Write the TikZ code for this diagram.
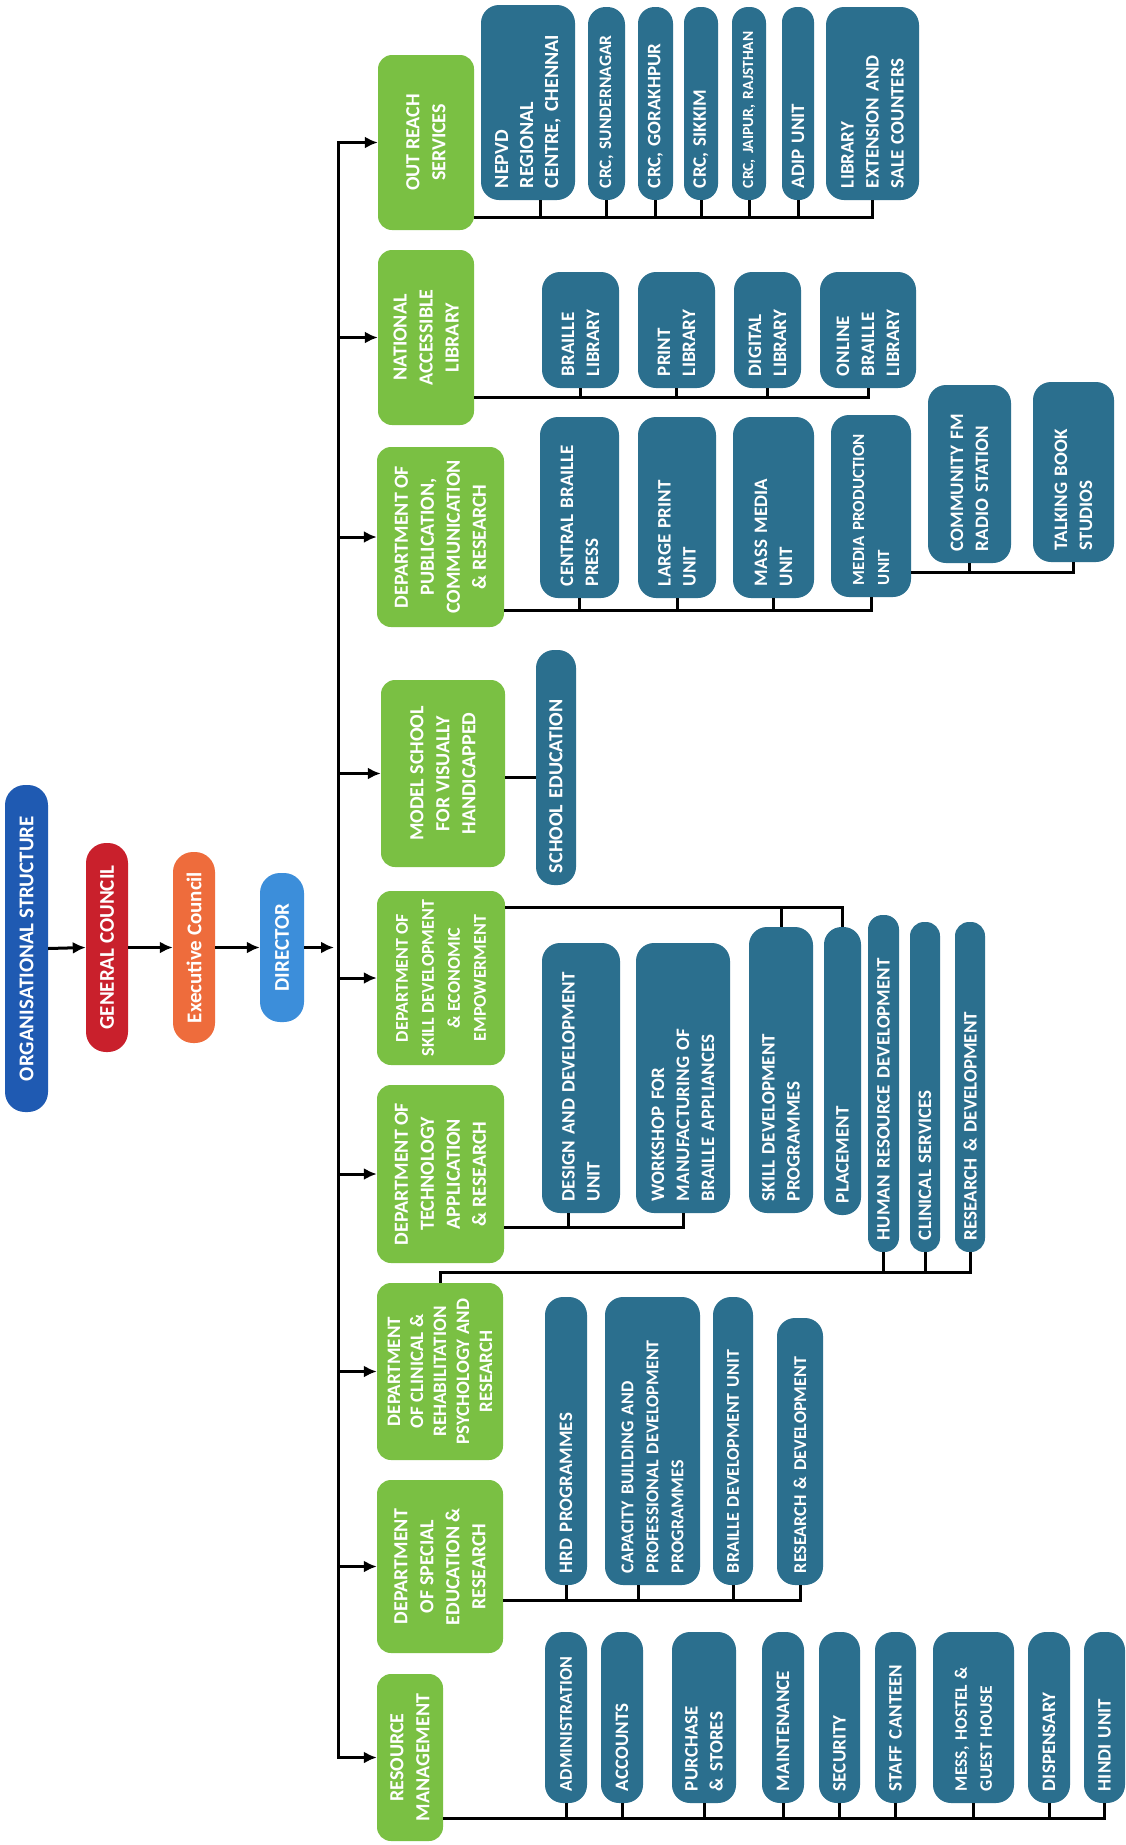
\documentclass[tikz,border=0pt]{standalone}
\usepackage{fontspec}
\setmainfont{Carlito}
\hyphenpenalty=10000
\exhyphenpenalty=10000
\usetikzlibrary{arrows.meta}
\definecolor{ngreen}{RGB}{122,192,67}
\definecolor{nblue}{RGB}{43,111,142}
\definecolor{orgblue}{RGB}{31,90,178}
\definecolor{gcred}{RGB}{201,32,44}
\definecolor{ecorange}{RGB}{238,108,60}
\definecolor{dirblue}{RGB}{60,142,218}
\tikzset{
  bx/.style={rotate=90, fill=nblue, text=white, font=\bfseries\fontsize{19}{25}\selectfont, align=left, inner xsep=12pt, inner ysep=0pt},
  gx/.style={rotate=90, fill=ngreen, text=white, font=\bfseries\fontsize{20}{26}\selectfont, align=center, inner sep=0pt, rounded corners=14pt},
  tx/.style={rotate=90, text=white, font=\bfseries\fontsize{21}{26}\selectfont, align=center, inner sep=0pt, rounded corners=20pt},
  ln/.style={line width=3pt, black},
  arr/.style={line width=3pt, black, -{Latex[length=13pt,width=12pt]}},
  fs/.style={font=\bfseries\fontsize{#1}{25}\selectfont},
}
\newcommand\mkbox[7]{%
  \pgfmathsetmacro\mbx{(#3+#4)/2}\pgfmathsetmacro\mby{(#5+#6)/2}%
  \pgfmathsetmacro\mbl{#6-#5}\pgfmathsetmacro\mbt{#4-#3}%
  \node[#1, minimum width=\mbl pt, minimum height=\mbt pt] (#2) at (\mbx,\mby) {#7};}
\newcommand\mkgreen[7][]{%
  \pgfmathsetmacro\mbx{(#3+#4)/2}\pgfmathsetmacro\mby{(#5+#6)/2}%
  \pgfmathsetmacro\mbl{#6-#5}\pgfmathsetmacro\mbt{#4-#3}%
  \node[gx, #1, minimum width=\mbl pt, minimum height=\mbt pt] (#2) at (\mbx,\mby) {#7};}
\newcommand\mkblue[7][]{%
  \pgfmathsetmacro\mbx{(#3+#4)/2}\pgfmathsetmacro\mby{(#5+#6)/2}%
  \pgfmathsetmacro\mbl{#6-#5}\pgfmathsetmacro\mbt{#4-#3}%
  \pgfmathsetmacro\mbw{#6-#5-24}\pgfmathsetmacro\mbr{min(18,(#4-#3)/2-1)}%
  \node[bx, #1, minimum width=\mbl pt, minimum height=\mbt pt, text width=\mbw pt, rounded corners=\mbr pt] (#2) at (\mbx,\mby) {#7};}
\begin{document}
\begin{tikzpicture}[x=1pt,y=-1pt]
\useasboundingbox[fill=white] (0,0) rectangle (1126,1845);
% top chain
\mkbox{tx,fill=orgblue}{ORG}{5}{48}{785}{1112}{ORGANISATIONAL STRUCTURE}
\mkbox{tx,fill=gcred}{GC}{86}{128}{843}{1052}{GENERAL COUNCIL}
\mkbox{tx,fill=ecorange}{EC}{173}{215}{852}{1043}{Executive Council}
\mkbox{tx,fill=dirblue}{DIR}{260}{304}{873}{1022}{DIRECTOR}
% green departments
\mkgreen{OUT}{378}{474}{55}{230}{OUT REACH\\SERVICES}
\mkgreen{NAL}{378}{474}{250}{425}{NATIONAL\\ACCESSIBLE\\LIBRARY}
\mkgreen{PUB}{377}{504}{447}{627}{DEPARTMENT OF\\PUBLICATION,\\COMMUNICATION\\\& RESEARCH}
\mkgreen{MOD}{381}{505}{680}{867}{MODEL SCHOOL\\FOR VISUALLY\\HANDICAPPED}
\mkgreen[font=\bfseries\fontsize{18}{26}\selectfont]{SKL}{377}{505}{891}{1065}{DEPARTMENT OF\\SKILL DEVELOPMENT\\\& ECONOMIC\\EMPOWERMENT}
\mkgreen{TEC}{377}{504}{1085}{1263}{DEPARTMENT OF\\TECHNOLOGY\\APPLICATION\\\& RESEARCH}
\mkgreen[font=\bfseries\fontsize{19}{23}\selectfont]{CLN}{377}{503}{1283}{1460}{DEPARTMENT\\OF CLINICAL \&\\REHABILITATION\\PSYCHOLOGY AND\\RESEARCH}
\mkgreen{SPE}{377}{503}{1480}{1653}{DEPARTMENT\\OF SPECIAL\\EDUCATION \&\\RESEARCH}
\mkgreen{RES}{377}{443}{1674}{1841}{RESOURCE\\MANAGEMENT}
% out reach children
\mkblue[fs=20]{NEP}{481}{575}{5}{200}{NEPVD\\REGIONAL\\CENTRE,~CHENNAI}
\mkblue[fs=17.5]{SUN}{588}{625}{7}{200}{CRC,~SUNDERNAGAR}
\mkblue{GOR}{638}{673}{7}{200}{CRC,~GORAKHPUR}
\mkblue{SIK}{684}{718}{7}{200}{CRC,~SIKKIM}
\mkblue[fs=15.5]{JAI}{732}{766}{7}{200}{CRC,~JAIPUR,~RAJSTHAN}
\mkblue{ADIP}{782}{814}{7}{200}{ADIP~UNIT}
\mkblue{LIB}{826}{919}{7}{200}{LIBRARY\\EXTENSION~AND\\SALE~COUNTERS}
% library children
\mkblue{BRL}{542}{619}{272}{388}{BRAILLE\\LIBRARY}
\mkblue{PRL}{638}{715}{272}{388}{PRINT\\LIBRARY}
\mkblue{DGL}{734}{801}{272}{388}{DIGITAL\\LIBRARY}
\mkblue{ONL}{820}{916}{272}{388}{ONLINE\\BRAILLE\\LIBRARY}
% publication children
\mkblue{CBP}{540}{619}{417}{598}{CENTRAL~BRAILLE\\PRESS}
\mkblue{LPU}{638}{716}{417}{598}{LARGE~PRINT\\UNIT}
\mkblue{MMU}{733}{814}{417}{598}{MASS~MEDIA\\UNIT}
\mkblue[fs=17]{MPU}{831}{911}{415}{597}{MEDIA~PRODUCTION\\UNIT}
\mkblue{CFM}{928}{1011}{385}{563}{COMMUNITY~FM\\RADIO~STATION}
\mkblue{TBS}{1033}{1114}{382}{562}{TALKING~BOOK\\STUDIOS}
% model school child
\mkblue[fs=20]{SCH}{536}{576}{650}{885}{SCHOOL~EDUCATION}
% skill / technology / clinical children
\mkblue{DDU}{542}{620}{943}{1213}{DESIGN~AND~DEVELOPMENT\\UNIT}
\mkblue{WMB}{636}{730}{943}{1213}{WORKSHOP~FOR\\MANUFACTURING~OF\\BRAILLE~APPLIANCES}
\mkblue{SDP}{749}{813}{927}{1213}{SKILL~DEVELOPMENT\\PROGRAMMES}
\mkblue{PLC}{824}{861}{927}{1215}{PLACEMENT}
\mkblue{HRDV}{868}{899}{915}{1252}{HUMAN~RESOURCE~DEVELOPMENT}
\mkblue{CLS}{910}{940}{922}{1252}{CLINICAL~SERVICES}
\mkblue{RDC}{955}{985}{922}{1252}{RESEARCH~\&~DEVELOPMENT}
% special education children
\mkblue{HRDP}{545}{587}{1297}{1585}{HRD~PROGRAMMES}
\mkblue[fs=18]{CAP}{605}{700}{1297}{1585}{CAPACITY~BUILDING~AND\\PROFESSIONAL~DEVELOPMENT\\PROGRAMMES}
\mkblue[fs=18]{BDU}{713}{753}{1297}{1585}{BRAILLE~DEVELOPMENT~UNIT}
\mkblue[fs=18]{RDS}{777}{823}{1318}{1585}{RESEARCH~\&~DEVELOPMENT}
% resource management children
\mkblue[fs=18]{ADM}{545}{587}{1632}{1803}{ADMINISTRATION}
\mkblue{ACC}{601}{643}{1632}{1803}{ACCOUNTS}
\mkblue{PUR}{672}{736}{1632}{1803}{PURCHASE\\\&~STORES}
\mkblue{MNT}{762}{804}{1632}{1803}{MAINTENANCE}
\mkblue{SEC}{819}{860}{1632}{1803}{SECURITY}
\mkblue{CAN}{875}{916}{1632}{1803}{STAFF~CANTEEN}
\mkblue[fs=17.5]{MES}{933}{1014}{1632}{1803}{MESS,~HOSTEL~\&\\GUEST~HOUSE}
\mkblue{DIS}{1028}{1070}{1632}{1803}{DISPENSARY}
\mkblue{HIN}{1084}{1125}{1632}{1803}{HINDI~UNIT}
% top chain arrows
\coordinate (BT) at (338,144);
\draw[arr] (ORG.south) -- (GC.north);
\draw[arr] (GC.south) -- (EC.north);
\draw[arr] (EC.south) -- (DIR.north);
\draw[arr, shorten >=4pt] (DIR.south) -- (DIR.south -| BT);
% bus and arrows to departments
\draw[ln, line cap=rect] (BT |- OUT.center) -- (BT |- RES.center);
\foreach \gg in {OUT,NAL,PUB,MOD,SKL,TEC,CLN,SPE,RES}
  \draw[arr] (BT |- \gg.center) -- (\gg.north);
% out reach
\coordinate (ob) at (0,217);
\coordinate (nept) at ([xshift=12pt]NEP.west);
\draw[ln] (OUT.south |- ob) -- (LIB.west |- ob) -- (LIB.west);
\draw[ln] (nept) -- (nept |- ob);
\foreach \cc in {SUN,GOR,SIK,JAI,ADIP} \draw[ln] (\cc.west) -- (\cc.west |- ob);
% library
\coordinate (nb) at (0,397);
\draw[ln] (NAL.south |- nb) -- (ONL.west |- nb) -- (ONL.west);
\foreach \cc in {BRL,PRL,DGL} \draw[ln] (\cc.west) -- (\cc.west |- nb);
% publication
\coordinate (pb) at (0,610);
\coordinate (pbb) at (0,572);
\draw[ln] (PUB.south |- pb) -- (MPU.west |- pb) -- (MPU.west);
\foreach \cc in {CBP,LPU,MMU} \draw[ln] (\cc.west) -- (\cc.west |- pb);
\draw[ln] (MPU.south |- pbb) -- (TBS.west |- pbb) -- (TBS.west);
\draw[ln] (CFM.west) -- (CFM.west |- pbb);
% model school
\coordinate (mb) at (0,777);
\draw[ln] (MOD.south |- mb) -- (SCH.north |- mb);
% skill development
\coordinate (sb) at (0,907);
\draw[ln] (SKL.south |- sb) -- (PLC.east |- sb) -- (PLC.east);
\draw[ln] (SDP.east) -- (SDP.east |- sb);
% technology
\coordinate (tb) at (0,1227);
\coordinate (ddut) at ([xshift=-13pt]DDU.west);
\draw[ln] (TEC.south |- tb) -- (WMB.west |- tb) -- (WMB.west);
\draw[ln] (ddut) -- (ddut |- tb);
% clinical
\coordinate (cb) at (0,1272);
\draw[ln] (CLN.east) -- (CLN.east |- cb) -- (RDC.west |- cb) -- (RDC.west);
\foreach \cc in {HRDV,CLS} \draw[ln] (\cc.west) -- (\cc.west |- cb);
% special education
\coordinate (spb) at (0,1600);
\coordinate (capt) at ([xshift=-14pt]CAP.west);
\draw[ln] (SPE.south |- spb) -- (RDS.west |- spb) -- (RDS.west);
\foreach \cc in {HRDP,BDU} \draw[ln] (\cc.west) -- (\cc.west |- spb);
\draw[ln] (capt) -- (capt |- spb);
% resource management
\coordinate (rb) at (0,1818);
\draw[ln] (RES.south |- rb) -- (HIN.west |- rb) -- (HIN.west);
\foreach \cc in {ADM,ACC,PUR,MNT,SEC,CAN,MES,DIS} \draw[ln] (\cc.west) -- (\cc.west |- rb);
\end{tikzpicture}
\end{document}
